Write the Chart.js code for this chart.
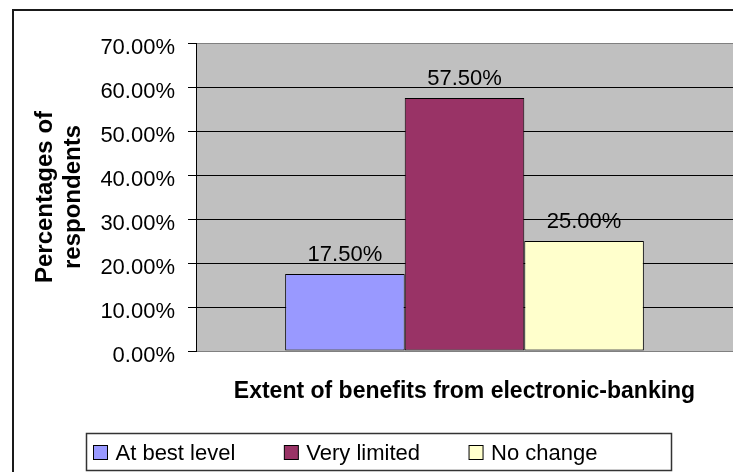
<!DOCTYPE html>
<html>
<head>
<meta charset="utf-8">
<script src="https://cdn.jsdelivr.net/npm/chart.js@4.4.0/dist/chart.umd.min.js"></script>
<style>
  body { margin: 0; background: #fff; }
  #wrap { width: 733px; height: 472px; }
</style>
</head>
<body>
<div id="wrap"><canvas id="chart" width="733" height="472"></canvas></div>
<script>
// chart data
const categories = [''];
const seriesNames = ['At best level', 'Very limited', 'No change'];
const seriesValues = [17.5, 57.5, 25.0];
const seriesColors = ['#9999ff', '#993366', '#ffffcc'];
const yTicks = [0, 10, 20, 30, 40, 50, 60, 70];
const xTitle = 'Extent of benefits from electronic-banking';
const yTitle = ['Percentages of', 'respondents'];

const FONT = "Arial, 'Liberation Sans', sans-serif";
const pct = v => Number(v).toFixed(2) + '%';

// gray plot background + outer frame
const framePlugin = {
  id: 'frame',
  beforeDraw(chart) {
    const { ctx, chartArea } = chart;
    ctx.save();
    ctx.fillStyle = '#c0c0c0';
    ctx.fillRect(chartArea.left, chartArea.top, chartArea.right - chartArea.left, chartArea.bottom - chartArea.top);
    ctx.strokeStyle = '#1a1a1a';
    ctx.lineWidth = 2;
    ctx.strokeRect(13, 10, 780, 520);
    ctx.restore();
  }
};

// value labels above bars
const valueLabels = {
  id: 'valueLabels',
  afterDatasetsDraw(chart) {
    const ctx = chart.ctx;
    ctx.save();
    ctx.font = '22px ' + FONT;
    ctx.fillStyle = '#000';
    ctx.textAlign = 'center';
    ctx.textBaseline = 'alphabetic';
    chart.data.datasets.forEach((ds, i) => {
      chart.getDatasetMeta(i).data.forEach((bar, j) => {
        ctx.fillText(pct(ds.data[j]), bar.x, bar.y - 13);
      });
    });
    ctx.restore();
  }
};

// boxed legend, Excel style
const boxLegend = {
  id: 'boxLegend',
  afterDraw(chart) {
    const ctx = chart.ctx;
    ctx.save();
    ctx.strokeStyle = '#333';
    ctx.lineWidth = 1.5;
    ctx.strokeRect(86.5, 433.5, 585, 37);

    ctx.font = '22px ' + FONT;
    ctx.textAlign = 'left';
    ctx.textBaseline = 'middle';
    let x = 93.5;
    chart.data.datasets.forEach(ds => {
      ctx.fillStyle = ds.backgroundColor;
      ctx.fillRect(x, 445.5, 14, 14);
      ctx.strokeStyle = '#000';
      ctx.lineWidth = 1;
      ctx.strokeRect(x, 445.5, 14, 14);
      ctx.fillStyle = '#000';
      ctx.fillText(ds.label, x + 22, 454);
      x += 22 + ctx.measureText(ds.label).width + 49;
    });
    ctx.restore();
  }
};

const datasets = seriesNames.map((name, i) => ({
  label: name,
  data: [seriesValues[i]],
  backgroundColor: seriesColors[i],
  borderColor: '#000',
  borderWidth: 1,
  borderSkipped: false,
  barPercentage: 1,
  categoryPercentage: 0.668
}));

new Chart(document.getElementById('chart'), {
  type: 'bar',
  data: { labels: categories, datasets: datasets },
  options: {
    responsive: false,
    animation: false,
    layout: { padding: { top: 43, right: 0, bottom: 0, left: 0 } },
    plugins: {
      legend: { display: false },
      tooltip: { enabled: false }
    },
    scales: {
      x: {
        grid: { display: false },
        border: { display: false },
        ticks: { display: false },
        afterFit: scale => { scale.height = 121; },
        title: {
          display: true,
          text: xTitle,
          color: '#000',
          font: { family: FONT, size: 23, weight: 'bold', lineHeight: 1.2 },
          padding: { top: 0, bottom: 66.2 }
        }
      },
      y: {
        min: yTicks[0],
        max: yTicks[yTicks.length - 1],
        afterFit: scale => { scale.width = 196; },
        ticks: {
          stepSize: yTicks[1] - yTicks[0],
          color: '#000',
          font: { family: FONT, size: 22 },
          padding: 13,
          labelOffset: 5,
          callback: v => pct(v)
        },
        grid: {
          color: c => (c.tick && (c.tick.value === yTicks[0] || c.tick.value === yTicks[yTicks.length - 1])) ? '#808080' : '#000',
          lineWidth: 1,
          tickColor: '#000',
          tickLength: 8
        },
        border: { display: true, color: '#000', width: 1 },
        title: {
          display: true,
          text: yTitle,
          color: '#000',
          font: { family: FONT, size: 24, weight: 'bold', lineHeight: 1.17 },
          padding: { top: 31.7, bottom: 0 }
        }
      }
    }
  },
  plugins: [framePlugin, valueLabels, boxLegend]
});
</script>
</body>
</html>
